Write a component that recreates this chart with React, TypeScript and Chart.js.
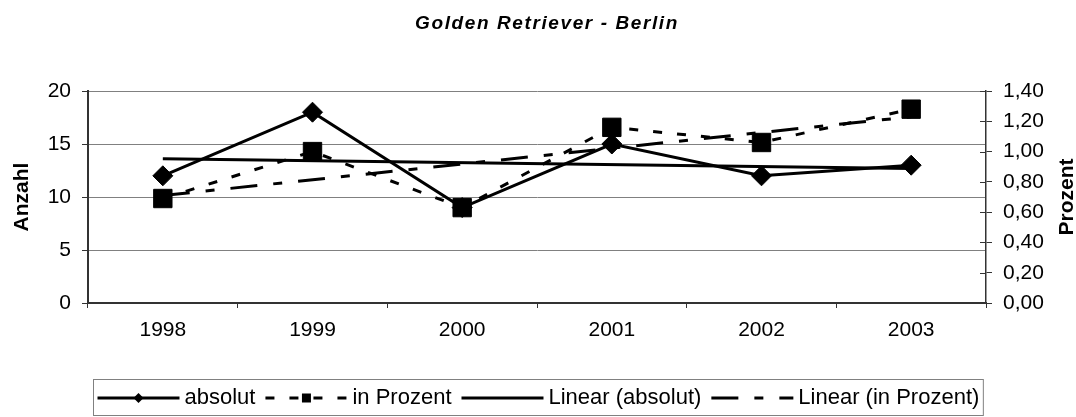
import React, { useEffect, useRef } from "react";
import { Chart, registerables } from "chart.js";

Chart.register(...registerables);

// ---- data ----
const chartTitle = "Golden Retriever - Berlin";
const years = ["1998", "1999", "2000", "2001", "2002", "2003"];
const absolut = [12, 18, 9, 15, 12, 13];
const inProzent = [0.69, 1.0, 0.63, 1.16, 1.06, 1.28];
const linearAbsolut = [13.6, null, null, null, null, 12.7];
const linearProzent = [0.71, null, null, null, null, 1.23];
const seriesNames = ["absolut", "in Prozent", "Linear (absolut)", "Linear (in Prozent)"];
const leftTitle = "Anzahl";
const rightTitle = "Prozent";

// ---- styles ----
const FONT = "'Liberation Sans', Arial, Helvetica, sans-serif";
const AXIS = "#333333";
const GRID = "#808080";
const DASH_SHORT = [9, 15];
const DASH_LONG = [27, 16, 9, 16];

const fmt = (v: number) => Number(v).toFixed(2).replace(".", ",");

function drawMarker(ctx: CanvasRenderingContext2D, kind: string, x: number, y: number, r: number) {
  ctx.beginPath();
  if (kind === "diamond") {
    ctx.moveTo(x - r, y);
    ctx.lineTo(x, y - r);
    ctx.lineTo(x + r, y);
    ctx.lineTo(x, y + r);
    ctx.closePath();
  } else {
    ctx.rect(x - r, y - r, 2 * r, 2 * r);
  }
  ctx.fillStyle = "#000";
  ctx.fill();
}

const decorPlugin = {
  id: "decor",
  afterDraw(chart: any) {
    const ctx: CanvasRenderingContext2D = chart.ctx;
    const area = chart.chartArea;
    const y1 = chart.scales.y1;
    ctx.save();

    // inner tick marks of right axis
    ctx.strokeStyle = AXIS;
    ctx.lineWidth = 1;
    y1.ticks.forEach((t: any) => {
      const py = Math.round(y1.getPixelForValue(t.value)) + 0.5;
      ctx.beginPath();
      ctx.moveTo(area.right - 6, py);
      ctx.lineTo(area.right, py);
      ctx.stroke();
    });

    // chart title
    ctx.fillStyle = "#000";
    ctx.font = `italic bold 19px ${FONT}`;
    (ctx as any).letterSpacing = "1.6px";
    ctx.textAlign = "center";
    ctx.textBaseline = "middle";
    ctx.fillText(chartTitle, (area.left + area.right) / 2 + 10, 24);
    (ctx as any).letterSpacing = "0px";

    // axis titles
    ctx.font = `bold 21px ${FONT}`;
    const midY = (area.top + area.bottom) / 2;
    ctx.save();
    ctx.translate(22, midY);
    ctx.rotate(-Math.PI / 2);
    ctx.fillText(leftTitle, 0, 0);
    ctx.restore();
    ctx.save();
    ctx.translate(chart.width - 9, midY);
    ctx.rotate(-Math.PI / 2);
    ctx.fillText(rightTitle, 0, 0);
    ctx.restore();

    // legend
    const items = [
      { label: seriesNames[0], dash: [] as number[], marker: "diamond", r: 5 },
      { label: seriesNames[1], dash: DASH_SHORT, marker: "square", r: 4.5 },
      { label: seriesNames[2], dash: [] as number[], marker: "", r: 0 },
      { label: seriesNames[3], dash: DASH_LONG, marker: "", r: 0 },
    ];
    ctx.font = `22px ${FONT}`;
    const sampleW = 82, sampleGap = 5, itemGap = 10, padX = 4;
    const widths = items.map((it) => ctx.measureText(it.label).width);
    const total =
      widths.reduce((a, b) => a + b, 0) +
      items.length * (sampleW + sampleGap) +
      (items.length - 1) * itemGap +
      2 * padX;
    const left = Math.round(chart.width / 2 - total / 2) + 0.5;
    const top = 379.5, bottom = 415.5;
    ctx.strokeStyle = GRID;
    ctx.lineWidth = 1;
    ctx.strokeRect(left, top, total, bottom - top);
    const cy = 398;
    let x = left + padX;
    items.forEach((it, i) => {
      ctx.save();
      ctx.strokeStyle = "#000";
      ctx.lineWidth = 3;
      ctx.setLineDash(it.dash);
      ctx.beginPath();
      ctx.moveTo(x, cy);
      ctx.lineTo(x + sampleW, cy);
      ctx.stroke();
      ctx.restore();
      if (it.marker) drawMarker(ctx, it.marker, x + sampleW / 2, cy, it.r);
      ctx.fillStyle = "#000";
      ctx.textAlign = "left";
      ctx.textBaseline = "middle";
      ctx.fillText(it.label, x + sampleW + sampleGap, cy);
      x += sampleW + sampleGap + widths[i] + itemGap;
    });

    ctx.restore();
  },
};

export default function App() {
  const ref = useRef<HTMLCanvasElement | null>(null);

  useEffect(() => {
    if (!ref.current) return;
    const chart = new Chart(ref.current, {
      type: "line",
      data: {
        labels: years,
        datasets: [
          {
            label: seriesNames[0],
            data: absolut,
            yAxisID: "y",
            borderColor: "#000",
            backgroundColor: "#000",
            borderWidth: 3,
            pointStyle: "rectRot",
            pointRadius: 10,
            pointBorderWidth: 1,
            pointBackgroundColor: "#000",
            pointBorderColor: "#000",
            tension: 0,
          },
          {
            label: seriesNames[1],
            data: inProzent,
            yAxisID: "y1",
            borderColor: "#000",
            backgroundColor: "#000",
            borderWidth: 3,
            borderDash: DASH_SHORT,
            pointStyle: "rect",
            pointRadius: 13,
            pointBorderWidth: 1,
            pointBackgroundColor: "#000",
            pointBorderColor: "#000",
            tension: 0,
          },
          {
            label: seriesNames[2],
            data: linearAbsolut as any,
            yAxisID: "y",
            borderColor: "#000",
            borderWidth: 3,
            pointRadius: 0,
            spanGaps: true,
            tension: 0,
          },
          {
            label: seriesNames[3],
            data: linearProzent as any,
            yAxisID: "y1",
            borderColor: "#000",
            borderWidth: 3,
            borderDash: DASH_LONG,
            pointRadius: 0,
            spanGaps: true,
            tension: 0,
          },
        ],
      },
      options: {
        animation: false,
        responsive: true,
        maintainAspectRatio: false,
        layout: { padding: { top: 91, left: 0, right: 0, bottom: 0 } },
        plugins: {
          legend: { display: false },
          title: { display: false },
          tooltip: { enabled: false },
        },
        scales: {
          x: {
            type: "category",
            offset: true,
            grid: { offset: true, drawOnChartArea: false, tickLength: 5, tickColor: AXIS },
            border: { color: AXIS, width: 2 },
            ticks: { color: "#000", font: { family: FONT, size: 21 }, padding: 10, maxRotation: 0 },
            afterFit(s: any) {
              s.height = 114;
            },
          },
          y: {
            position: "left",
            min: 0,
            max: 20,
            ticks: { stepSize: 5, color: "#000", font: { family: FONT, size: 21 }, padding: 11 },
            grid: { color: GRID, tickColor: AXIS, tickLength: 6 },
            border: { color: AXIS, width: 2 },
            afterFit(s: any) {
              s.width = 88;
            },
          },
          y1: {
            position: "right",
            min: 0,
            max: 1.4,
            ticks: {
              stepSize: 0.2,
              color: "#000",
              font: { family: FONT, size: 21 },
              padding: 11,
              callback: (v: any) => fmt(v),
            },
            grid: { drawOnChartArea: false, tickColor: AXIS, tickLength: 6 },
            border: { color: AXIS, width: 1.5 },
            afterFit(s: any) {
              s.width = 90;
            },
          },
        },
      },
      plugins: [decorPlugin],
    });
    return () => chart.destroy();
  }, []);

  return (
    <div style={{ position: "absolute", left: 0, top: 0, width: 1076, height: 417, background: "#fff" }}>
      <canvas ref={ref} />
    </div>
  );
}
